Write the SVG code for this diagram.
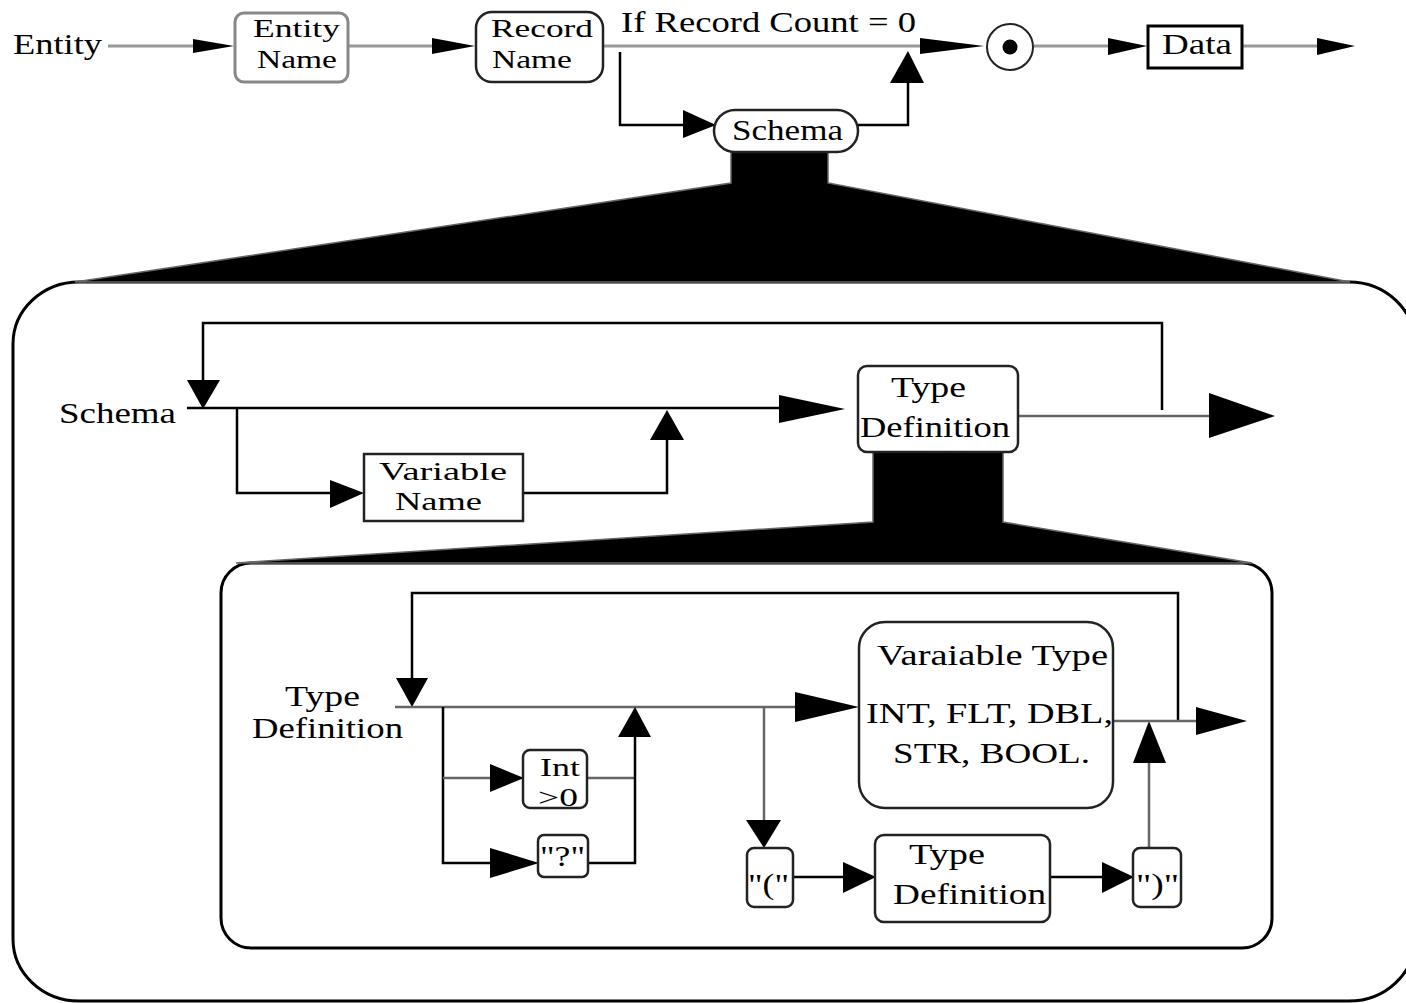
<svg xmlns="http://www.w3.org/2000/svg" width="1406" height="1003" viewBox="0 0 1406 1003">
<style>
text{font-family:"Liberation Serif","DejaVu Serif",serif;font-size:29px;fill:#000}
.s{font-size:25px}
.gl{fill:none;stroke:#999;stroke-width:3}
.bl{fill:none;stroke:#000;stroke-width:2.5}
.dl{fill:none;stroke:#666;stroke-width:2.5}
.ah{fill:#000;stroke:none}
.box{fill:#fff;stroke:#222;stroke-width:2.5}
.gbox{fill:#fff;stroke:#888;stroke-width:3}
.funnel{fill:#000;stroke:#666;stroke-width:1.5}
</style>

<g id="frames">
  <rect x="13" y="282" width="1402" height="719" rx="66" ry="62" fill="#fff" stroke="#000" stroke-width="3"/>
  <polygon class="funnel" points="731,150 828,150 828,183 1350,282 75,282 731,183"/>
  <rect x="221" y="563" width="1051" height="385" rx="30" ry="30" fill="#fff" stroke="#000" stroke-width="3"/>
  <polygon class="funnel" points="873,450 1003,450 1003,522 1252,563 236,563 873,522"/>
</g>

<g id="connectors">
  <!-- top row -->
  <line class="gl" x1="108" y1="46" x2="200" y2="46"/>
  <polygon class="ah" points="193,39 234,46 193,53"/>
  <line class="gl" x1="348" y1="46" x2="440" y2="46"/>
  <polygon class="ah" points="432,38 475,46 432,54"/>
  <line class="gl" x1="603" y1="46" x2="930" y2="46"/>
  <polygon class="ah" points="920,38 984,46 920,54"/>
  <line class="gl" x1="1034" y1="46" x2="1115" y2="46"/>
  <polygon class="ah" points="1108,38 1147,46 1108,55"/>
  <line class="gl" x1="1242" y1="46" x2="1325" y2="46"/>
  <polygon class="ah" points="1317,38 1355,46 1317,55"/>
  <polyline class="bl" points="620,52 620,125 690,125"/>
  <polygon class="ah" points="683,110 716,125 683,138"/>
  <polyline class="bl" points="858,125 908,125 908,80"/>
  <polygon class="ah" points="890,83 908,51 924,83"/>

  <!-- box 1 -->
  <polyline class="bl" points="203,385 203,323 1162,323 1162,410"/>
  <polygon class="ah" points="187,380 203,409 220,380"/>
  <line class="bl" x1="187" y1="408" x2="785" y2="408"/>
  <polygon class="ah" points="779,395 845,409 779,423"/>
  <polyline class="bl" points="237,408 237,493 335,493"/>
  <polygon class="ah" points="330,480 364,493 330,508"/>
  <polyline class="bl" points="523,493 667,493 667,435"/>
  <polygon class="ah" points="650,440 667,410 684,440"/>
  <line class="dl" x1="1018" y1="416" x2="1212" y2="416"/>
  <polygon class="ah" points="1209,393 1275,416 1209,438"/>

  <!-- box 2 -->
  <polyline class="bl" points="412,680 412,593 1178,593 1178,721"/>
  <polygon class="ah" points="396,678 412,707 428,678"/>
  <line class="dl" x1="395" y1="707" x2="800" y2="707"/>
  <polygon class="ah" points="795,692 859,707 795,722"/>
  <polyline class="bl" points="443,707 443,863 495,863"/>
  <line class="dl" x1="443" y1="778" x2="495" y2="778"/>
  <polygon class="ah" points="490,764 524,778 490,792"/>
  <polygon class="ah" points="490,848 539,863 490,878"/>
  <line class="dl" x1="587" y1="778" x2="635" y2="778"/>
  <polyline class="bl" points="588,863 635,863 635,735"/>
  <polygon class="ah" points="618,737 635,707 651,737"/>
  <line class="dl" x1="764" y1="707" x2="764" y2="825"/>
  <polygon class="ah" points="746,820 764,848 781,820"/>
  <line class="bl" x1="793" y1="877" x2="845" y2="877"/>
  <polygon class="ah" points="843,862 876,877 843,893"/>
  <line class="bl" x1="1050" y1="877" x2="1105" y2="877"/>
  <polygon class="ah" points="1102,862 1134,877 1102,893"/>
  <line class="dl" x1="1149" y1="848" x2="1149" y2="760"/>
  <polygon class="ah" points="1133,763 1149,721 1166,763"/>
  <line class="dl" x1="1113" y1="721" x2="1200" y2="721"/>
  <polygon class="ah" points="1196,707 1247,721 1196,735"/>
</g>

<g id="n-entity-label"><text x="13" y="54" textLength="89" lengthAdjust="spacingAndGlyphs">Entity</text></g>
<g id="n-entity-name">
  <rect class="gbox" x="235" y="13" width="113" height="69" rx="9"/>
  <text class="s" x="253" y="37" textLength="87" lengthAdjust="spacingAndGlyphs">Entity</text>
  <text class="s" x="257" y="68" textLength="80" lengthAdjust="spacingAndGlyphs">Name</text>
</g>
<g id="n-record-name">
  <rect class="box" x="476" y="12" width="127" height="70" rx="16"/>
  <text class="s" x="491" y="37" textLength="102" lengthAdjust="spacingAndGlyphs">Record</text>
  <text class="s" x="492" y="68" textLength="80" lengthAdjust="spacingAndGlyphs">Name</text>
</g>
<g id="n-if-label"><text x="621" y="32" textLength="295" lengthAdjust="spacingAndGlyphs">If Record Count = 0</text></g>
<g id="n-schema">
  <rect class="box" x="714" y="110" width="144" height="42" rx="21"/>
  <text x="732" y="140" textLength="111" lengthAdjust="spacingAndGlyphs">Schema</text>
</g>
<g id="n-junction">
  <circle cx="1010" cy="47" r="23" fill="#fff" stroke="#222" stroke-width="2"/>
  <circle cx="1010" cy="47" r="7.5" fill="#000"/>
</g>
<g id="n-data">
  <rect x="1148" y="26" width="94" height="42" fill="#fff" stroke="#000" stroke-width="3"/>
  <text x="1162" y="54" textLength="70" lengthAdjust="spacingAndGlyphs">Data</text>
</g>

<g id="n-schema-label"><text x="59" y="423" textLength="117" lengthAdjust="spacingAndGlyphs">Schema</text></g>
<g id="n-variable-name">
  <rect class="box" x="364" y="454" width="159" height="67"/>
  <text class="s" x="379" y="480" textLength="128" lengthAdjust="spacingAndGlyphs">Variable</text>
  <text class="s" x="395" y="510" textLength="87" lengthAdjust="spacingAndGlyphs">Name</text>
</g>
<g id="n-type-def-1">
  <rect class="box" x="858" y="366" width="160" height="86" rx="9"/>
  <text x="891" y="397" textLength="75" lengthAdjust="spacingAndGlyphs">Type</text>
  <text x="860" y="437" textLength="150" lengthAdjust="spacingAndGlyphs">Definition</text>
</g>

<g id="n-type-def-label">
  <text x="285" y="706" textLength="75" lengthAdjust="spacingAndGlyphs">Type</text>
  <text x="252" y="738" textLength="151" lengthAdjust="spacingAndGlyphs">Definition</text>
</g>
<g id="n-int">
  <rect class="box" x="523" y="750" width="64" height="58" rx="7" stroke="#555"/>
  <text class="s" x="540" y="776" textLength="40" lengthAdjust="spacingAndGlyphs">Int</text>
  <text class="s" x="538" y="806" textLength="40" lengthAdjust="spacingAndGlyphs">&gt;0</text>
</g>
<g id="n-question">
  <rect class="box" x="538" y="835" width="50" height="42" rx="6"/>
  <text x="540" y="866" textLength="45" lengthAdjust="spacingAndGlyphs">"?"</text>
</g>
<g id="n-var-type">
  <rect class="box" x="859" y="622" width="254" height="186" rx="26"/>
  <text x="877" y="665" textLength="231" lengthAdjust="spacingAndGlyphs">Varaiable Type</text>
  <text x="866" y="723" textLength="247" lengthAdjust="spacingAndGlyphs">INT, FLT, DBL,</text>
  <text x="893" y="763" textLength="197" lengthAdjust="spacingAndGlyphs">STR, BOOL.</text>
</g>
<g id="n-lparen">
  <rect class="box" x="747" y="848" width="46" height="59" rx="7"/>
  <text x="748" y="894" textLength="41" lengthAdjust="spacingAndGlyphs">"("</text>
</g>
<g id="n-type-def-2">
  <rect class="box" x="875" y="835" width="175" height="87" rx="9"/>
  <text x="909" y="864" textLength="76" lengthAdjust="spacingAndGlyphs">Type</text>
  <text x="893" y="904" textLength="153" lengthAdjust="spacingAndGlyphs">Definition</text>
</g>
<g id="n-rparen">
  <rect class="box" x="1133" y="848" width="48" height="59" rx="7"/>
  <text x="1136" y="894" textLength="43" lengthAdjust="spacingAndGlyphs">")"</text>
</g>
</svg>
